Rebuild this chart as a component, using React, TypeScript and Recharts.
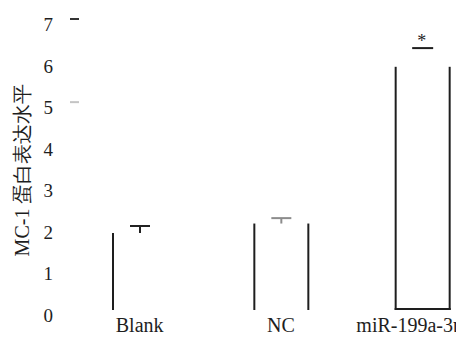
import { Bar, BarChart, XAxis, YAxis, Label } from "recharts";

const categories = ["Blank", "NC", "miR-199a-3p"];
const expression = [1.85, 2.08, 5.85];
const errorUp = [0.17, 0.13, null];
const significance = [null, null, 6.3];
const sigMarks = ["", "", "*"];
const yTicks = [0, 1, 2, 3, 4, 5, 6, 7];

const data = categories.map((name, i) => ({
  name,
  value: expression[i],
  err: errorUp[i],
  sig: significance[i],
  mark: sigMarks[i],
}));

// which sides of each bar survive in the original figure
const barEdges: Record<string, string[]> = {
  Blank: ["left"],
  NC: ["left", "right"],
  "miR-199a-3p": ["left", "right", "bottom"],
};
const capColor: Record<string, string> = { Blank: "#222", NC: "#8c8c8c" };
const tickDash: Record<number, string> = { 7: "#333", 5: "#c4c4c4" };

const serif = "Liberation Serif";
const ink = "#1e1e1e";

function OpenBar(props: any) {
  const { x, y, width, height, payload } = props;
  const edges = barEdges[payload.name] || [];
  const ppu = height / payload.value;
  const cx = x + width / 2;
  const bottom = y + height;
  return (
    <g>
      {edges.includes("left") && (
        <line x1={x + 1} y1={y} x2={x + 1} y2={bottom} stroke={ink} strokeWidth={2} />
      )}
      {edges.includes("right") && (
        <line x1={x + width - 1} y1={y} x2={x + width - 1} y2={bottom} stroke={ink} strokeWidth={2} />
      )}
      {edges.includes("bottom") && (
        <line x1={x} y1={bottom - 1} x2={x + width} y2={bottom - 1} stroke={ink} strokeWidth={2} />
      )}
      {payload.err != null && (
        <g stroke={capColor[payload.name] || ink} strokeWidth={2}>
          <line x1={cx - 10} y1={y - payload.err * ppu} x2={cx + 10} y2={y - payload.err * ppu} />
          <line x1={cx} y1={y - payload.err * ppu} x2={cx} y2={y} />
        </g>
      )}
      {payload.sig != null && (
        <g>
          <line
            x1={cx - 10.5}
            y1={y - (payload.sig - payload.value) * ppu}
            x2={cx + 10.5}
            y2={y - (payload.sig - payload.value) * ppu}
            stroke={ink}
            strokeWidth={2}
          />
          <text
            x={cx - 1}
            y={y - (payload.sig - payload.value) * ppu - 1}
            textAnchor="middle"
            fontFamily={serif}
            fontSize={18}
            fill={ink}
          >
            {payload.mark}
          </text>
        </g>
      )}
    </g>
  );
}

function YTick(props: any) {
  const { x, y, payload } = props;
  const axisX = x + 16;
  const dash = tickDash[payload.value];
  return (
    <g>
      <text x={x} y={y + 12} textAnchor="end" fontFamily={serif} fontSize={19} fill={ink}>
        {payload.value}
      </text>
      {dash && <line x1={axisX + 1} y1={y} x2={axisX + 10} y2={y} stroke={dash} strokeWidth={2} />}
    </g>
  );
}

function XTick(props: any) {
  const { x, y, payload } = props;
  const last = payload.value === categories[categories.length - 1];
  return (
    <text
      x={last ? 463 : x}
      y={y + 22}
      textAnchor={last ? "end" : "middle"}
      fontFamily={serif}
      fontSize={20}
      fill={ink}
    >
      {payload.value}
    </text>
  );
}

function YTitle(props: any) {
  const { viewBox } = props;
  const cx = viewBox.x + 21.5;
  const cy = viewBox.y + viewBox.height / 2 + 5.5;
  return (
    <text
      x={cx}
      y={cy}
      transform={`rotate(-90 ${cx} ${cy})`}
      textAnchor="middle"
      dominantBaseline="central"
      fontFamily={serif}
      fontSize={20}
      fill={ink}
    >
      MC-1 蛋白表达水平
    </text>
  );
}

export default function App() {
  return (
    <div style={{ margin: -8, width: 464, height: 340, overflow: "hidden", background: "#fff" }}>
      <BarChart width={493} height={340} data={data} margin={{ top: 19, right: 0, bottom: 0, left: 0 }}>
        <XAxis
          dataKey="name"
          axisLine={false}
          tickLine={false}
          tickSize={0}
          tickMargin={0}
          height={30}
          interval={0}
          tick={<XTick />}
        />
        <YAxis
          domain={[0, 7]}
          ticks={yTicks}
          axisLine={false}
          tickLine={false}
          tickSize={0}
          tickMargin={16}
          width={69}
          tick={<YTick />}
        >
          <Label content={<YTitle />} />
        </YAxis>
        <Bar dataKey="value" barSize={56} fill="none" shape={<OpenBar />} isAnimationActive={false} />
      </BarChart>
    </div>
  );
}
